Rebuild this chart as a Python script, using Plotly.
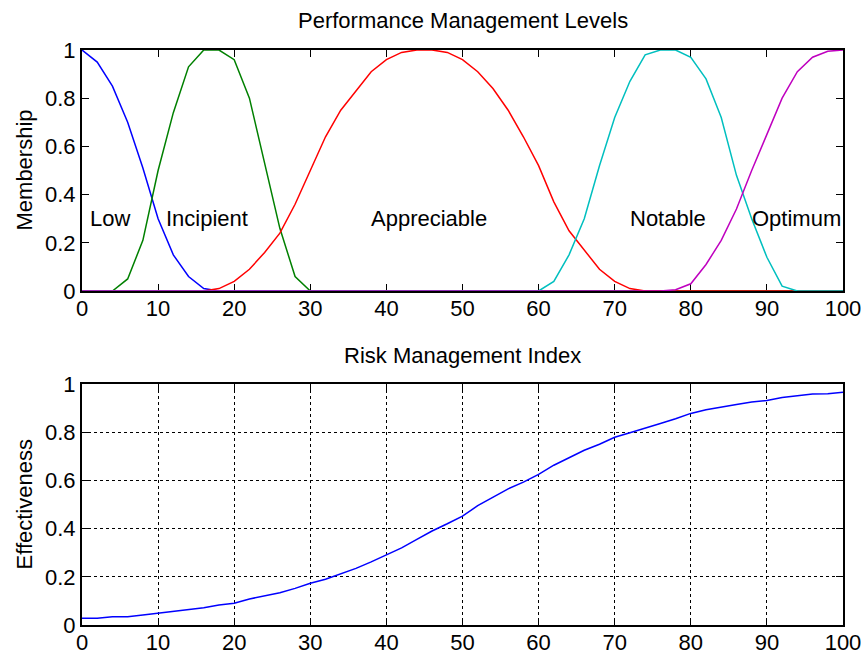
import plotly.graph_objects as go

# ---- data ----
x_levels = [0, 2, 4, 6, 8, 10, 12, 14, 16, 18, 20, 22, 24, 26, 28, 30, 32, 34, 36, 38, 40,
            42, 44, 46, 48, 50, 52, 54, 56, 58, 60, 62, 64, 66, 68, 70, 72, 74, 76, 78, 80,
            82, 84, 86, 88, 90, 92, 94, 96, 98, 100]

low = [1.0, 0.95, 0.85, 0.70, 0.51, 0.30, 0.15, 0.06, 0.01, 0, 0, 0, 0, 0, 0, 0, 0, 0, 0, 0, 0,
       0, 0, 0, 0, 0, 0, 0, 0, 0, 0, 0, 0, 0, 0, 0, 0, 0, 0, 0, 0,
       0, 0, 0, 0, 0, 0, 0, 0, 0, 0]
incipient = [0, 0, 0, 0.05, 0.21, 0.50, 0.74, 0.93, 1.0, 1.0, 0.96, 0.80, 0.53, 0.26, 0.06, 0, 0, 0, 0, 0, 0,
             0, 0, 0, 0, 0, 0, 0, 0, 0, 0, 0, 0, 0, 0, 0, 0, 0, 0, 0, 0,
             0, 0, 0, 0, 0, 0, 0, 0, 0, 0]
appreciable = [0, 0, 0, 0, 0, 0, 0, 0, 0, 0.01, 0.04, 0.09, 0.16, 0.24, 0.36, 0.50, 0.64, 0.75, 0.83, 0.91, 0.96,
               0.99, 1.0, 1.0, 0.99, 0.96, 0.91, 0.84, 0.75, 0.64, 0.52, 0.37, 0.25, 0.17, 0.09, 0.04, 0.01, 0, 0, 0, 0,
               0, 0, 0, 0, 0, 0, 0, 0, 0, 0]
notable = [0, 0, 0, 0, 0, 0, 0, 0, 0, 0, 0, 0, 0, 0, 0, 0, 0, 0, 0, 0, 0,
           0, 0, 0, 0, 0, 0, 0, 0, 0, 0, 0.04, 0.15, 0.30, 0.52, 0.72, 0.87, 0.98, 1.0, 1.0, 0.97,
           0.88, 0.72, 0.48, 0.30, 0.14, 0.02, 0, 0, 0, 0]
optimum = [0, 0, 0, 0, 0, 0, 0, 0, 0, 0, 0, 0, 0, 0, 0, 0, 0, 0, 0, 0, 0,
           0, 0, 0, 0, 0, 0, 0, 0, 0, 0, 0, 0, 0, 0, 0, 0, 0, 0, 0.005, 0.03,
           0.11, 0.21, 0.34, 0.50, 0.65, 0.80, 0.91, 0.97, 0.995, 1.0]

level_names = ["Low", "Incipient", "Appreciable", "Notable", "Optimum"]
label_x = [1, 11, 38, 72, 88]
label_y = [0.3, 0.3, 0.3, 0.3, 0.3]

x_index = x_levels
effectiveness = [0.028, 0.028, 0.034, 0.034, 0.041, 0.048, 0.055, 0.062, 0.072, 0.083, 0.090,
                 0.108, 0.122, 0.134, 0.152, 0.173, 0.190, 0.213, 0.235, 0.262, 0.290,
                 0.320, 0.355, 0.390, 0.420, 0.452, 0.495, 0.530, 0.565, 0.593, 0.625,
                 0.663, 0.695, 0.725, 0.750, 0.779, 0.798, 0.816, 0.836, 0.856, 0.878,
                 0.893, 0.905, 0.915, 0.925, 0.932, 0.944, 0.950, 0.958, 0.960, 0.966]

x_ticks = [0, 10, 20, 30, 40, 50, 60, 70, 80, 90, 100]
y_ticks = [0, 0.2, 0.4, 0.6, 0.8, 1]
y_ticktext = ["0", "0.2", "0.4", "0.6", "0.8", "1"]

# ---- figure ----
FONT = "Liberation Sans, Arial, sans-serif"
FS = 22
W, H = 864, 656
x_dom = [82 / W, 843 / W]
top_dom = [(H - 291) / H, (H - 50) / H]
bot_dom = [(H - 625) / H, (H - 384) / H]

fig = go.Figure()
colors = ["#0000FF", "#008000", "#FF0000", "#00BFBF", "#BF00BF"]
series = [low, incipient, appreciable, notable, optimum]
for name, vals, c in zip(level_names, series, colors):
    fig.add_trace(go.Scatter(x=x_levels, y=vals, mode="lines", name=name,
                             line=dict(color=c, width=1.5), xaxis="x", yaxis="y",
                             showlegend=False))

fig.add_trace(go.Scatter(x=x_index, y=effectiveness, mode="lines",
                         line=dict(color="#0000FF", width=1.5), xaxis="x2", yaxis="y2",
                         showlegend=False))

common_x = dict(range=[0, 100], tickvals=x_ticks, ticks="inside", ticklen=7, tickwidth=1,
                tickcolor="black", showline=True, linecolor="black", linewidth=2,
                mirror="ticks", zeroline=False, layer="below traces", automargin=False,
                ticklabelstandoff=-3,
                tickfont=dict(family=FONT, size=FS, color="black"), domain=x_dom)
common_y = dict(range=[0, 1], tickvals=y_ticks, ticktext=y_ticktext, ticks="inside", ticklen=7,
                tickwidth=1, tickcolor="black", showline=True, linecolor="black", linewidth=2,
                mirror="ticks", zeroline=False, layer="below traces", automargin=False,
                tickfont=dict(family=FONT, size=FS, color="black"))

fig.update_layout(
    template="none",
    width=W, height=H,
    margin=dict(l=0, r=0, t=0, b=0, pad=0),
    paper_bgcolor="white", plot_bgcolor="white",
    font=dict(family=FONT, size=FS, color="black"),
    xaxis=dict(**common_x, anchor="y", showgrid=False),
    yaxis=dict(**common_y, anchor="x", domain=top_dom, showgrid=False),
    xaxis2=dict(**common_x, anchor="y2", showgrid=True, gridcolor="black", gridwidth=1,
                griddash="dot"),
    yaxis2=dict(**common_y, anchor="x2", domain=bot_dom, showgrid=True, gridcolor="black",
                gridwidth=1, griddash="dot"),
)

annotations = []
for t, lx, ly in zip(level_names, label_x, label_y):
    annotations.append(dict(x=lx, y=ly, xref="x", yref="y", text=t, showarrow=False,
                            xanchor="left", yanchor="middle", xshift=-2,
                            font=dict(family=FONT, size=FS, color="black")))
annotations += [
    dict(x=462.5 / W, y=1 - 21 / H, xref="paper", yref="paper", text="Performance Management Levels",
         showarrow=False, xanchor="center", yanchor="middle", font=dict(family=FONT, size=FS, color="black")),
    dict(x=462.5 / W, y=1 - 355 / H, xref="paper", yref="paper", text="Risk Management Index",
         showarrow=False, xanchor="center", yanchor="middle", font=dict(family=FONT, size=FS, color="black")),
    dict(x=24 / W, y=1 - 170.5 / H, xref="paper", yref="paper", text="Membership", textangle=-90,
         showarrow=False, xanchor="center", yanchor="middle", font=dict(family=FONT, size=FS, color="black")),
    dict(x=24 / W, y=1 - 504.5 / H, xref="paper", yref="paper", text="Effectiveness", textangle=-90,
         showarrow=False, xanchor="center", yanchor="middle", font=dict(family=FONT, size=FS, color="black")),
]
fig.update_layout(annotations=annotations)

fig.write_html("out.html", config={"displayModeBar": False},
               post_script="document.body.style.margin='0';document.body.style.padding='0';")
